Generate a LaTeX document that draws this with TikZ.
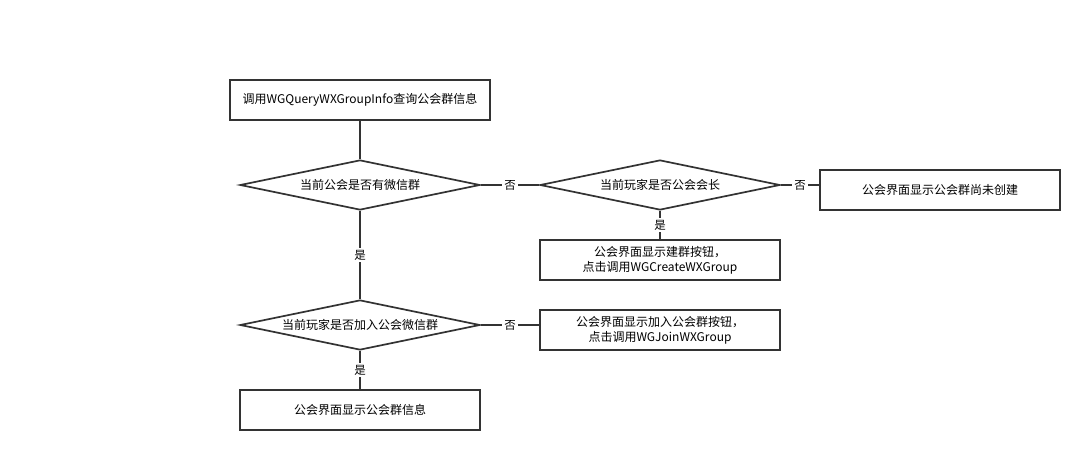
\documentclass[tikz,border=0pt]{standalone}
\usepackage{fontspec}
\setmainfont{Noto Sans CJK SC}
\usetikzlibrary{shapes.geometric}
\definecolor{ln}{HTML}{333333}
\begin{document}
\begin{tikzpicture}[x=1pt,y=-1pt,
  every node/.style={font=\fontsize{12}{15}\selectfont, text=black},
  box/.style={draw=ln, line width=1.7pt, rectangle, minimum width=#1, minimum height=40pt, inner sep=1pt, align=center, fill=white},
  box/.default=240pt,
  dia/.style={draw=ln, line width=1.7pt, diamond, aspect=4.8, minimum width=240pt, minimum height=50pt, inner sep=1pt, fill=white},
  conn/.style={draw=ln, line width=1.7pt},
  lab/.style={fill=white, inner sep=2pt, font=\fontsize{11.5}{13}\selectfont}
]
\useasboundingbox (0,0) rectangle (1080,450);
\node[box=260pt] (b1) at (360,100) {调用WGQueryWXGroupInfo查询公会群信息};
\node[dia] (d1) at (360,185) {当前公会是否有微信群};
\node[dia] (d2) at (660,185) {当前玩家是否公会会长};
\node[box] (b3) at (940,190) {公会界面显示公会群尚未创建};
\node[box] (b2) at (660,260) {公会界面显示建群按钮，\\点击调用WGCreateWXGroup};
\node[dia] (d3) at (360,325) {当前玩家是否加入公会微信群};
\node[box] (b4) at (660,330) {公会界面显示加入公会群按钮，\\点击调用WGJoinWXGroup};
\node[box] (b5) at (360,410) {公会界面显示公会群信息};

\draw[conn] (b1.south) -- (d1.north);
\draw[conn] (d1.east) -- node[lab] {否} (d2.west);
\draw[conn] (d2.east) -- node[lab] {否} (d2.east -| b3.west);
\draw[conn] (d2.south) -- node[lab] {是} (b2.north);
\draw[conn] (d1.south) -- node[lab] {是} (d3.north);
\draw[conn] (d3.east) -- node[lab] {否} (d3.east -| b4.west);
\draw[conn] (d3.south) -- node[lab] {是} (b5.north);
\end{tikzpicture}
\end{document}
